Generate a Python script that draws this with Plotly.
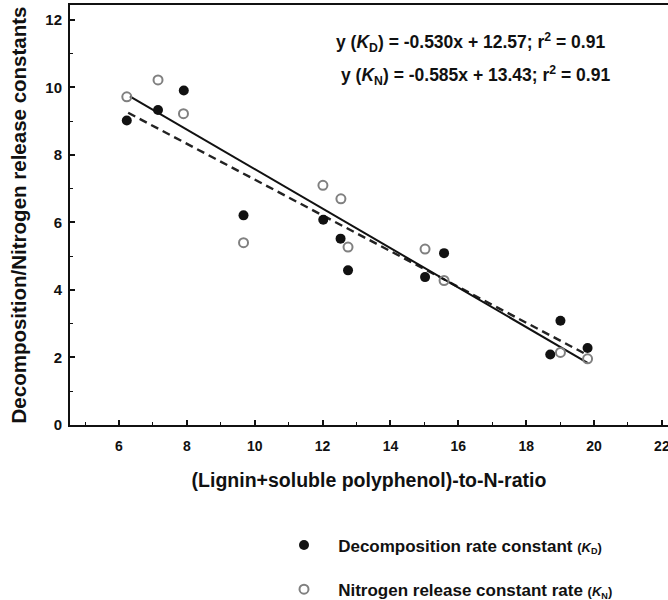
import plotly.graph_objects as go

# Data
kd_x = [6.23, 7.15, 7.91, 9.67, 12.02, 12.53, 12.75, 15.02, 15.58, 18.71, 19.01, 19.81]
kd_y = [9.02, 9.33, 9.91, 6.21, 6.08, 5.52, 4.58, 4.38, 5.09, 2.09, 3.09, 2.28]
kn_x = [6.23, 7.15, 7.90, 9.67, 12.01, 12.54, 12.75, 15.02, 15.58, 19.01, 19.81]
kn_y = [9.72, 10.22, 9.22, 5.40, 7.10, 6.70, 5.27, 5.21, 4.28, 2.15, 1.96]

# Regression coefficients (from the chart)
kd_slope, kd_int = -0.530, 12.57
kn_slope, kn_int = -0.585, 13.43
kd_line_x = [6.27, 19.75]
kn_line_x = [6.32, 19.81]

x_ticks = [6, 8, 10, 12, 14, 16, 18, 20, 22]
y_ticks = [0, 2, 4, 6, 8, 10, 12]

FONT = "Liberation Sans, Arial, sans-serif"
L, R, T, B = 70, 0, 5, 175
PW, PH = 668 - L - R, 600 - T - B


def px_x(p):
    return (p - L) / PW


def px_y(p):
    return (600 - B - p) / PH


fig = go.Figure()

fig.add_trace(go.Scatter(
    x=kd_line_x, y=[kd_slope * v + kd_int for v in kd_line_x],
    mode="lines", line=dict(color="#222", width=2.4, dash="8px,5px"),
    showlegend=False, hoverinfo="skip"))
fig.add_trace(go.Scatter(
    x=kn_line_x, y=[kn_slope * v + kn_int for v in kn_line_x],
    mode="lines", line=dict(color="#111", width=2),
    showlegend=False, hoverinfo="skip"))

fig.add_trace(go.Scatter(
    x=kd_x, y=kd_y, mode="markers",
    marker=dict(symbol="circle", size=10, color="#111", line=dict(color="#111", width=0)),
    name="&nbsp;&nbsp;&nbsp;Decomposition rate constant&nbsp;<span style='font-size:13px'>(<i>K</i><sub>D</sub>)</span>",
    legendgroup="a"))
fig.add_trace(go.Scatter(
    x=kn_x, y=kn_y, mode="markers",
    marker=dict(symbol="circle-open", size=9, color="#808080", line=dict(width=2)),
    name="&nbsp;&nbsp;&nbsp;Nitrogen release constant rate&nbsp;<span style='font-size:13px'>(<i>K</i><sub>N</sub>)</span>",
    legendgroup="b"))

eqs = [
    ("y (<i>K</i><sub>D</sub>) = -0.530x + 12.57; r<sup>2</sup> = 0.91", 470, 42.5),
    ("y (<i>K</i><sub>N</sub>) = -0.585x + 13.43; r<sup>2</sup> = 0.91", 475, 75.5),
]
for txt, cx, cy in eqs:
    fig.add_annotation(
        text="<b>" + txt + "</b>", xref="paper", yref="paper",
        x=px_x(cx), y=px_y(cy), xanchor="center", yanchor="middle",
        showarrow=False, font=dict(family=FONT, size=17.5, color="#111"))

fig.update_layout(
    width=668, height=600,
    margin=dict(l=L, r=R, t=T, b=B, autoexpand=False),
    paper_bgcolor="white", plot_bgcolor="white",
    font=dict(family=FONT, color="#111"),
    legend=dict(
        x=px_x(284), y=px_y(527.5), xanchor="left", yanchor="top",
        font=dict(family=FONT, size=17, color="#111", weight="bold"),
        traceorder="grouped", tracegroupgap=19, bgcolor="rgba(0,0,0,0)"),
    xaxis=dict(
        range=[4.556, 22.18], tickvals=x_ticks, ticks="inside", ticklen=5, tickwidth=1.5,
        tickcolor="#111", showline=True, linecolor="#111", linewidth=2, mirror=True,
        showgrid=False, zeroline=False, automargin=False, ticklabeloverflow="allow",
        ticklabelstandoff=7,
        minor=dict(dtick=1, tick0=5, ticks="inside", ticklen=3, tickcolor="#111", tickwidth=1.2),
        tickfont=dict(family=FONT, size=14, color="#111", weight="bold"),
        title=dict(text="(Lignin+soluble polyphenol)-to-N-ratio", standoff=21,
                   font=dict(family=FONT, size=19.5, color="#111", weight="bold"))),
    yaxis=dict(
        range=[0, 12.44], tickvals=y_ticks, ticks="inside", ticklen=5, tickwidth=1.5,
        tickcolor="#111", showline=True, linecolor="#111", linewidth=2, mirror=False,
        showgrid=False, zeroline=False, automargin=False, ticklabelstandoff=3,
        minor=dict(dtick=1, tick0=1, ticks="inside", ticklen=3, tickcolor="#111", tickwidth=1.2),
        tickfont=dict(family=FONT, size=15, color="#111", weight="bold"),
        title=dict(text="Decomposition/Nitrogen release constants", standoff=13,
                   font=dict(family=FONT, size=20.5, color="#111", weight="bold"))),
)

fig.write_html("out.html", config={"displayModeBar": False},
               post_script="document.body.style.margin='0px';")
